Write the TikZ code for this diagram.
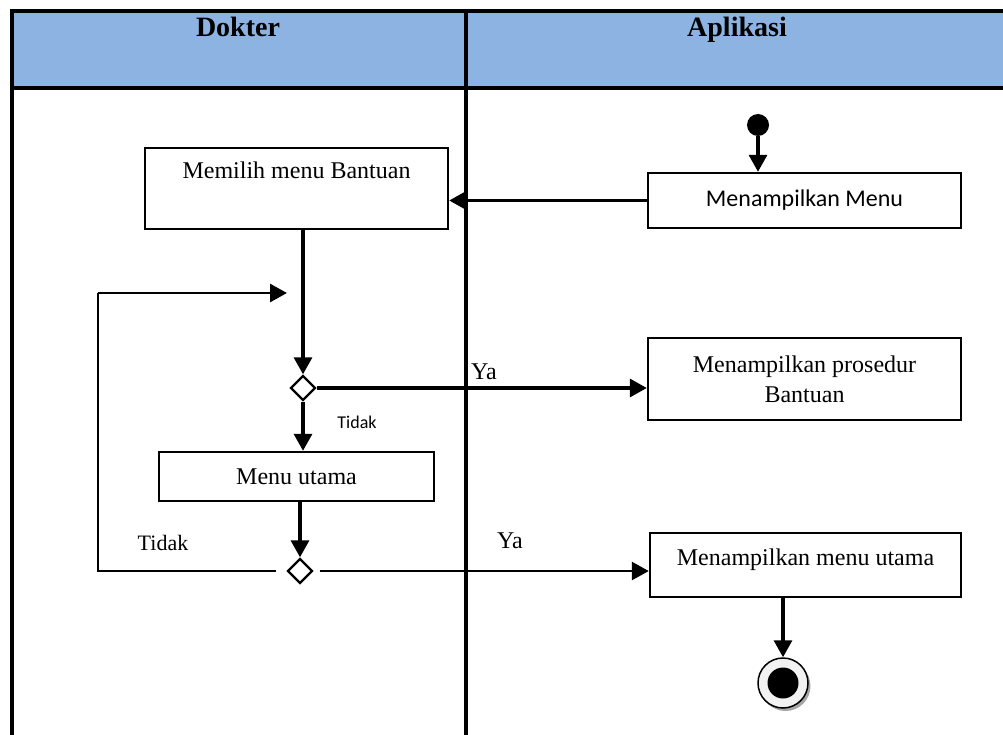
\documentclass[tikz,border=0pt]{standalone}
\usepackage{fontspec}
\setmainfont{Liberation Serif}
\newfontfamily\calfont{Carlito}
\usetikzlibrary{arrows.meta,shapes.geometric}

\definecolor{headblue}{HTML}{8DB3E2}
\definecolor{endfill}{HTML}{F2F2F2}

\tikzset{
  lane/.style={line width=3.2pt},
  actbox/.style={draw, line width=2.4pt, rectangle, inner sep=0pt,
    font=\fontsize{24}{30}\selectfont, align=center},
  decision/.style={draw, line width=2.4pt, diamond, inner sep=0pt,
    minimum width=25pt, minimum height=25pt},
  flow/.style={line width=3.3pt, -{Triangle[length=17pt,width=18pt]}},
  plain/.style={line width=2.4pt},
  headtext/.style={font=\fontsize{28}{32}\selectfont\bfseries, anchor=base},
  guard/.style={font=\fontsize{24}{28}\selectfont},
  smallguard/.style={font=\fontsize{18}{20}\selectfont\calfont},
}

\begin{document}
\begin{tikzpicture}[x=1pt, y=-1pt]
\useasboundingbox (0,0) rectangle (1003,735);

% swimlane header and borders
\fill[headblue] (12,11) rectangle (1003,88);
\draw[lane] (12,11) -- (1003,11);
\draw[lane] (12,88) -- (1003,88);
\draw[lane] (12,9.4) -- (12,735);
\draw[lane] (466,9.4) -- (466,735);
\node[headtext] (hdok) at (238,37) {Dokter};
\node[headtext] (happ) at (737,37) {Aplikasi};

% initial node
\node[circle, fill=black, inner sep=0pt, minimum size=22pt] (start) at (758,125) {};

% activities
\node[actbox, minimum width=313pt, minimum height=55pt] (menu) at (804.5,200.5)
  {\calfont Menampilkan Menu};
\node[actbox, minimum width=303pt, minimum height=81pt] (bantuan) at (296.5,188.5)
  {\raisebox{36pt}{Memilih menu Bantuan}};
\node[actbox, minimum width=313pt, minimum height=82pt] (prosedur) at (804.5,379)
  {Menampilkan prosedur\\Bantuan};
\node[actbox, minimum width=275pt, minimum height=49pt] (utama) at (296.5,476.5)
  {Menu utama};
\node[actbox, minimum width=311pt, minimum height=64pt] (tampil) at (805.5,565)
  {\raisebox{15pt}{Menampilkan menu utama}};

% decisions
\node[decision] (d1) at (303,388) {};
\node[decision] (d2) at (300,571) {};

% final node with its drop shadow
\fill[gray!70] (785.5,686) circle (25pt);
\node[circle, draw, line width=1.5pt, fill=endfill, inner sep=0pt, minimum size=50pt] (end) at (783,683) {};
\fill[black] (end.center) circle (15.5pt);

% loop-back points
\coordinate (loopL) at (98,571);
\coordinate (loopT) at (98,293);
\coordinate (loopE) at (287,293);

% flows
\draw[flow] (start) -- (start |- menu.north);
\draw[flow] (menu.west) -- (bantuan.east |- menu.west);
\draw[flow] (d1.north |- bantuan.south) -- (d1.north);
\draw[flow] (d1.east) -- (prosedur.west |- d1.east);
\draw[flow] (d1.south) -- (d1.south |- utama.north);
\draw[flow] (d2.north |- utama.south) -- (d2.north);
\draw[flow, line width=2.8pt, shorten <=6pt] (d2.east) -- (tampil.west |- d2.east);
\draw[plain, shorten <=10pt] (d2.west) -- (loopL) -- (loopT);
\draw[flow, line width=2.8pt] (loopT) -- (loopE);
\draw[flow] (end.north |- tampil.south) -- (end.north);

% guards
\node[guard] (ya1) at (484,372) {Ya};
\node[guard] (ya2) at (510,541) {Ya};
\node[smallguard] (tidak1) at (357,422) {Tidak};
\node[guard, font=\fontsize{22}{26}\selectfont] (tidak2) at (163,543) {Tidak};
\end{tikzpicture}
\end{document}
